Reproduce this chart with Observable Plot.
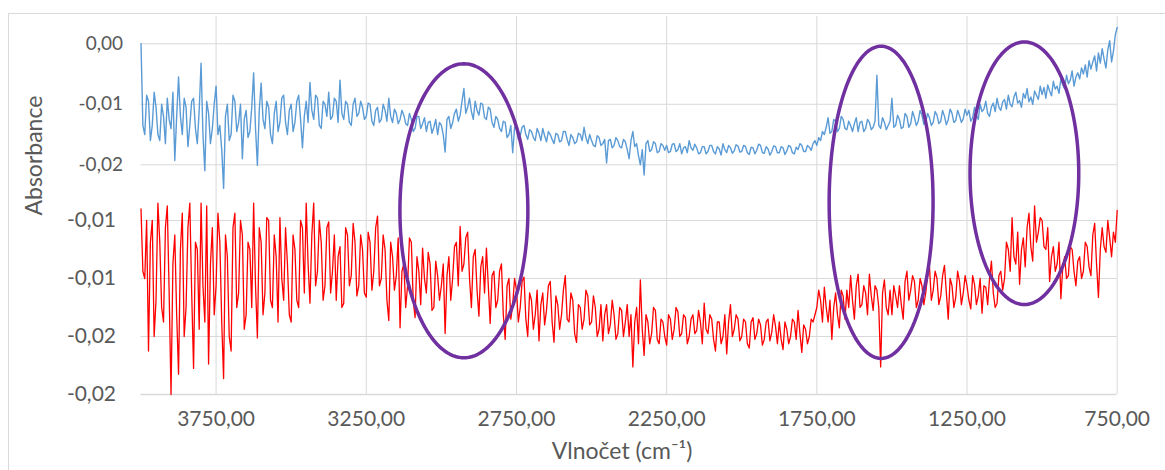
<!DOCTYPE html>
<html><head><meta charset="utf-8">
<script src="https://cdn.jsdelivr.net/npm/d3@7"></script>
<script src="https://cdn.jsdelivr.net/npm/@observablehq/plot@0.6"></script>
<style>
body{margin:0;background:#fff;}
#wrap{position:relative;width:1165px;height:470px;overflow:hidden;background:#fff;}
#frame{position:absolute;left:8px;top:13px;width:1200px;height:500px;border-left:1px solid #d9d9d9;border-top:1px solid #d9d9d9;pointer-events:none;}
#wrap svg{position:absolute;left:0;top:0;}
</style></head><body><div id="wrap"><div id="frame"></div></div>
<script>
// Spectral range (cm-1), sampled evenly from first to last value
const wavenumberFirst = 4000;
const wavenumberLast = 750;

// Upper spectrum (blue), absorbance
const blueAbsorbance = [
 0.0000,-0.0135,-0.0150,-0.0085,-0.0095,-0.0160,-0.0135,-0.0080,-0.0105,-0.0150,-0.0160,-0.0100,-0.0120,-0.0165,-0.0090,-0.0125,-0.0140,-0.0080,-0.0193,-0.0120,
 -0.0055,-0.0120,-0.0150,-0.0090,-0.0105,-0.0170,-0.0135,-0.0095,-0.0090,-0.0140,-0.0165,-0.0110,-0.0032,-0.0150,-0.0210,-0.0095,-0.0115,-0.0165,-0.0140,-0.0100,
 -0.0070,-0.0150,-0.0135,-0.0175,-0.0239,-0.0120,-0.0100,-0.0160,-0.0150,-0.0085,-0.0095,-0.0145,-0.0130,-0.0100,-0.0190,-0.0125,-0.0110,-0.0155,-0.0145,-0.0105,
 -0.0048,-0.0140,-0.0201,-0.0110,-0.0065,-0.0125,-0.0140,-0.0095,-0.0105,-0.0150,-0.0165,-0.0115,-0.0095,-0.0145,-0.0130,-0.0090,-0.0085,-0.0130,-0.0150,-0.0110,
 -0.0100,-0.0145,-0.0130,-0.0095,-0.0085,-0.0125,-0.0172,-0.0120,-0.0095,-0.0130,-0.0064,-0.0110,-0.0125,-0.0085,-0.0090,-0.0135,-0.0140,-0.0095,-0.0100,-0.0120,
 -0.0080,-0.0125,-0.0120,-0.0090,-0.0095,-0.0130,-0.0060,-0.0115,-0.0125,-0.0095,-0.0100,-0.0130,-0.0135,-0.0100,-0.0090,-0.0120,-0.0115,-0.0095,-0.0105,-0.0125,
 -0.0120,-0.0098,-0.0100,-0.0128,-0.0135,-0.0110,-0.0105,-0.0130,-0.0125,-0.0100,-0.0110,-0.0128,-0.0090,-0.0120,-0.0130,-0.0108,-0.0115,-0.0132,-0.0125,-0.0110,
 -0.0118,-0.0132,-0.0135,-0.0115,-0.0125,-0.0145,-0.0140,-0.0120,-0.0120,-0.0140,-0.0132,-0.0122,-0.0145,-0.0130,-0.0128,-0.0148,-0.0138,-0.0125,-0.0150,-0.0130,
 -0.0135,-0.0150,-0.0179,-0.0125,-0.0120,-0.0140,-0.0130,-0.0115,-0.0108,-0.0128,-0.0118,-0.0095,-0.0074,-0.0115,-0.0105,-0.0090,-0.0112,-0.0125,-0.0095,-0.0110,
 -0.0118,-0.0098,-0.0100,-0.0122,-0.0125,-0.0105,-0.0108,-0.0130,-0.0138,-0.0120,-0.0125,-0.0140,-0.0145,-0.0128,-0.0130,-0.0155,-0.0150,-0.0135,-0.0180,-0.0138,
 -0.0140,-0.0158,-0.0152,-0.0138,-0.0135,-0.0150,-0.0158,-0.0142,-0.0145,-0.0155,-0.0160,-0.0140,-0.0148,-0.0160,-0.0140,-0.0152,-0.0162,-0.0145,-0.0150,-0.0158,
 -0.0165,-0.0148,-0.0150,-0.0162,-0.0160,-0.0145,-0.0145,-0.0158,-0.0168,-0.0150,-0.0155,-0.0165,-0.0162,-0.0148,-0.0150,-0.0160,-0.0138,-0.0155,-0.0165,-0.0150,
 -0.0160,-0.0168,-0.0170,-0.0152,-0.0155,-0.0168,-0.0165,-0.0158,-0.0197,-0.0160,-0.0158,-0.0172,-0.0168,-0.0155,-0.0160,-0.0170,-0.0172,-0.0158,-0.0162,-0.0175,
 -0.0190,-0.0160,-0.0145,-0.0170,-0.0165,-0.0185,-0.0200,-0.0175,-0.0217,-0.0165,-0.0160,-0.0178,-0.0175,-0.0162,-0.0165,-0.0180,-0.0178,-0.0165,-0.0168,-0.0176,
 -0.0168,-0.0180,-0.0178,-0.0166,-0.0165,-0.0178,-0.0175,-0.0165,-0.0182,-0.0172,-0.0170,-0.0180,-0.0160,-0.0172,-0.0176,-0.0166,-0.0172,-0.0182,-0.0180,-0.0170,
 -0.0170,-0.0182,-0.0178,-0.0168,-0.0168,-0.0178,-0.0182,-0.0170,-0.0174,-0.0184,-0.0165,-0.0175,-0.0180,-0.0168,-0.0172,-0.0181,-0.0177,-0.0167,-0.0169,-0.0179,
 -0.0178,-0.0168,-0.0170,-0.0180,-0.0183,-0.0171,-0.0172,-0.0182,-0.0176,-0.0166,-0.0168,-0.0180,-0.0181,-0.0170,-0.0174,-0.0184,-0.0178,-0.0169,-0.0170,-0.0180,
 -0.0180,-0.0170,-0.0172,-0.0183,-0.0177,-0.0168,-0.0170,-0.0180,-0.0182,-0.0171,-0.0175,-0.0165,-0.0168,-0.0178,-0.0178,-0.0168,-0.0171,-0.0176,-0.0165,-0.0160,
 -0.0168,-0.0155,-0.0160,-0.0145,-0.0150,-0.0138,-0.0122,-0.0148,-0.0145,-0.0125,-0.0128,-0.0145,-0.0140,-0.0120,-0.0125,-0.0140,-0.0142,-0.0128,-0.0135,-0.0145,
 -0.0132,-0.0122,-0.0145,-0.0130,-0.0128,-0.0145,-0.0140,-0.0125,-0.0130,-0.0142,-0.0138,-0.0128,-0.0052,-0.0135,-0.0140,-0.0122,-0.0130,-0.0142,-0.0135,-0.0128,
 -0.0090,-0.0138,-0.0135,-0.0118,-0.0125,-0.0140,-0.0138,-0.0115,-0.0120,-0.0138,-0.0132,-0.0112,-0.0122,-0.0135,-0.0128,-0.0110,-0.0118,-0.0133,-0.0130,-0.0115,
 -0.0122,-0.0135,-0.0130,-0.0112,-0.0118,-0.0132,-0.0128,-0.0110,-0.0120,-0.0134,-0.0125,-0.0108,-0.0115,-0.0130,-0.0127,-0.0110,-0.0119,-0.0130,-0.0124,-0.0108,
 -0.0118,-0.0110,-0.0128,-0.0122,-0.0105,-0.0118,-0.0125,-0.0100,-0.0112,-0.0108,-0.0095,-0.0115,-0.0120,-0.0104,-0.0098,-0.0112,-0.0090,-0.0105,-0.0110,-0.0096,
 -0.0092,-0.0108,-0.0085,-0.0100,-0.0104,-0.0088,-0.0080,-0.0098,-0.0094,-0.0105,-0.0082,-0.0090,-0.0074,-0.0096,-0.0088,-0.0100,-0.0078,-0.0085,-0.0092,-0.0070,
 -0.0084,-0.0072,-0.0090,-0.0068,-0.0078,-0.0086,-0.0062,-0.0075,-0.0070,-0.0082,-0.0058,-0.0068,-0.0074,-0.0052,-0.0066,-0.0060,-0.0045,-0.0070,-0.0055,-0.0048,
 -0.0058,-0.0040,-0.0050,-0.0035,-0.0055,-0.0028,-0.0042,-0.0030,-0.0020,-0.0045,-0.0015,-0.0032,-0.0008,-0.0025,-0.0040,-0.0010,0.0005,-0.0030,-0.0012,0.0015,
 0.0027
];

// Lower spectrum (red), absorbance
const redAbsorbance = [
 -0.0072,-0.0115,-0.0120,-0.0080,-0.0170,-0.0095,-0.0080,-0.0160,-0.0135,-0.0068,-0.0095,-0.0140,-0.0150,-0.0085,-0.0070,-0.0130,-0.0200,-0.0110,-0.0090,-0.0145,
 -0.0186,-0.0100,-0.0075,-0.0160,-0.0140,-0.0085,-0.0068,-0.0130,-0.0182,-0.0095,-0.0100,-0.0155,-0.0068,-0.0125,-0.0150,-0.0070,-0.0179,-0.0110,-0.0085,-0.0145,
 -0.0125,-0.0075,-0.0095,-0.0150,-0.0189,-0.0090,-0.0105,-0.0160,-0.0170,-0.0085,-0.0075,-0.0140,-0.0130,-0.0080,-0.0090,-0.0155,-0.0145,-0.0095,-0.0100,-0.0140,
 -0.0068,-0.0125,-0.0161,-0.0085,-0.0095,-0.0145,-0.0130,-0.0078,-0.0080,-0.0135,-0.0140,-0.0090,-0.0105,-0.0150,-0.0078,-0.0120,-0.0135,-0.0085,-0.0110,-0.0145,
 -0.0150,-0.0090,-0.0100,-0.0135,-0.0140,-0.0080,-0.0085,-0.0130,-0.0068,-0.0110,-0.0137,-0.0090,-0.0068,-0.0125,-0.0115,-0.0080,-0.0095,-0.0135,-0.0125,-0.0085,
 -0.0081,-0.0130,-0.0115,-0.0090,-0.0135,-0.0105,-0.0098,-0.0140,-0.0137,-0.0085,-0.0090,-0.0125,-0.0118,-0.0082,-0.0095,-0.0132,-0.0125,-0.0090,-0.0100,-0.0130,
 -0.0133,-0.0088,-0.0095,-0.0128,-0.0115,-0.0085,-0.0077,-0.0125,-0.0120,-0.0090,-0.0100,-0.0135,-0.0149,-0.0095,-0.0105,-0.0128,-0.0118,-0.0092,-0.0154,-0.0115,
 -0.0110,-0.0140,-0.0125,-0.0092,-0.0095,-0.0135,-0.0147,-0.0105,-0.0115,-0.0138,-0.0099,-0.0120,-0.0130,-0.0102,-0.0110,-0.0142,-0.0140,-0.0108,-0.0118,-0.0135,
 -0.0125,-0.0110,-0.0158,-0.0118,-0.0105,-0.0135,-0.0120,-0.0098,-0.0095,-0.0125,-0.0084,-0.0115,-0.0110,-0.0092,-0.0088,-0.0120,-0.0140,-0.0105,-0.0100,-0.0128,
 -0.0146,-0.0112,-0.0105,-0.0130,-0.0099,-0.0125,-0.0151,-0.0118,-0.0115,-0.0140,-0.0135,-0.0115,-0.0110,-0.0145,-0.0162,-0.0125,-0.0120,-0.0148,-0.0138,-0.0120,
 -0.0128,-0.0150,-0.0140,-0.0122,-0.0119,-0.0148,-0.0160,-0.0130,-0.0135,-0.0155,-0.0145,-0.0128,-0.0163,-0.0138,-0.0130,-0.0152,-0.0142,-0.0125,-0.0122,-0.0150,
 -0.0164,-0.0132,-0.0138,-0.0155,-0.0145,-0.0128,-0.0118,-0.0148,-0.0150,-0.0130,-0.0135,-0.0158,-0.0164,-0.0138,-0.0140,-0.0155,-0.0148,-0.0128,-0.0132,-0.0152,
 -0.0150,-0.0132,-0.0140,-0.0160,-0.0155,-0.0138,-0.0163,-0.0145,-0.0138,-0.0158,-0.0152,-0.0135,-0.0145,-0.0162,-0.0158,-0.0140,-0.0142,-0.0160,-0.0150,-0.0138,
 -0.0160,-0.0145,-0.0181,-0.0150,-0.0140,-0.0165,-0.0121,-0.0155,-0.0173,-0.0145,-0.0150,-0.0165,-0.0158,-0.0140,-0.0142,-0.0162,-0.0165,-0.0148,-0.0150,-0.0160,
 -0.0166,-0.0145,-0.0148,-0.0162,-0.0155,-0.0140,-0.0143,-0.0160,-0.0158,-0.0145,-0.0147,-0.0165,-0.0160,-0.0148,-0.0145,-0.0158,-0.0156,-0.0142,-0.0150,-0.0165,
 -0.0137,-0.0155,-0.0158,-0.0145,-0.0148,-0.0162,-0.0170,-0.0150,-0.0150,-0.0165,-0.0160,-0.0145,-0.0172,-0.0150,-0.0138,-0.0160,-0.0155,-0.0145,-0.0148,-0.0163,
 -0.0160,-0.0148,-0.0150,-0.0165,-0.0168,-0.0150,-0.0147,-0.0162,-0.0158,-0.0148,-0.0152,-0.0166,-0.0162,-0.0150,-0.0148,-0.0163,-0.0157,-0.0145,-0.0153,-0.0165,
 -0.0150,-0.0162,-0.0169,-0.0150,-0.0155,-0.0165,-0.0160,-0.0148,-0.0150,-0.0162,-0.0142,-0.0158,-0.0171,-0.0152,-0.0155,-0.0165,-0.0160,-0.0148,-0.0150,-0.0145,
 -0.0140,-0.0128,-0.0135,-0.0150,-0.0126,-0.0140,-0.0150,-0.0135,-0.0162,-0.0140,-0.0130,-0.0145,-0.0154,-0.0128,-0.0132,-0.0148,-0.0128,-0.0140,-0.0118,-0.0135,
 -0.0148,-0.0125,-0.0117,-0.0140,-0.0138,-0.0125,-0.0130,-0.0145,-0.0117,-0.0132,-0.0142,-0.0125,-0.0128,-0.0140,-0.0181,-0.0130,-0.0121,-0.0140,-0.0145,-0.0128,
 -0.0145,-0.0125,-0.0132,-0.0140,-0.0125,-0.0138,-0.0148,-0.0122,-0.0115,-0.0135,-0.0128,-0.0118,-0.0122,-0.0140,-0.0135,-0.0120,-0.0125,-0.0138,-0.0130,-0.0118,
 -0.0112,-0.0135,-0.0128,-0.0115,-0.0120,-0.0138,-0.0132,-0.0118,-0.0111,-0.0130,-0.0148,-0.0120,-0.0125,-0.0140,-0.0133,-0.0115,-0.0122,-0.0138,-0.0130,-0.0118,
 -0.0125,-0.0135,-0.0141,-0.0118,-0.0124,-0.0138,-0.0132,-0.0120,-0.0144,-0.0125,-0.0126,-0.0138,-0.0120,-0.0108,-0.0130,-0.0140,-0.0137,-0.0118,-0.0115,-0.0128,
 -0.0120,-0.0095,-0.0100,-0.0115,-0.0078,-0.0105,-0.0110,-0.0088,-0.0124,-0.0100,-0.0092,-0.0112,-0.0085,-0.0075,-0.0098,-0.0108,-0.0070,-0.0095,-0.0088,-0.0078,
 -0.0080,-0.0098,-0.0100,-0.0085,-0.0122,-0.0105,-0.0098,-0.0115,-0.0110,-0.0095,-0.0134,-0.0112,-0.0105,-0.0120,-0.0118,-0.0098,-0.0100,-0.0115,-0.0125,-0.0108,
 -0.0105,-0.0120,-0.0115,-0.0095,-0.0098,-0.0112,-0.0118,-0.0090,-0.0082,-0.0110,-0.0133,-0.0100,-0.0085,-0.0098,-0.0102,-0.0080,-0.0092,-0.0105,-0.0088,-0.0095,
 -0.0073
];

// Axis ticks and labels
const xTicks = [3750, 3250, 2750, 2250, 1750, 1250, 750];
const xTickLabels = ["3750,00", "3250,00", "2750,00", "2250,00", "1750,00", "1250,00", "750,00"];
const blueTicks = [0, -0.01, -0.02];
const blueTickLabels = ["0,00", "-0,01", "-0,02"];
const redTicks = [-0.008, -0.012, -0.016, -0.020];
const redTickLabels = ["-0,01", "-0,01", "-0,02", "-0,02"];
const xTitle = "Vlnočet (cm⁻¹)";
const yTitle = "Absorbance";

// Highlight ellipses (centre in cm-1 / upper-panel absorbance, half sizes)
const ellipseCenterX = [2925, 1536, 1059];
const ellipseHalfWidth = [213, 173, 181];
const ellipseCenterY = [-0.0276, -0.0262, -0.0214];
const ellipseHalfHeight = [0.0243, 0.0258, 0.0217];

// ---- layout: the red panel is drawn under the blue one on a shared vertical axis
const redOffset = -0.02921, redGain = 2.3967;
const redToShared = b => redOffset + (b - redTicks[0]) * redGain;
const yTop = 0.00451, yBottom = redToShared(redTicks[redTicks.length - 1]);

const grid_w = arr => arr.map((v, i) => wavenumberFirst - i * (wavenumberFirst - wavenumberLast) / (arr.length - 1));
const blueW = grid_w(blueAbsorbance), redW = grid_w(redAbsorbance);
const blueData = blueAbsorbance.map((a, i) => ({w: blueW[i], y: a}));
const redData = redAbsorbance.map((b, i) => ({w: redW[i], y: redToShared(b)}));
const ellipsePts = ellipseCenterX.flatMap((cx, k) => d3.range(0, 145).map(j => {
  const t = j / 144 * 2 * Math.PI;
  return {k, x: cx + ellipseHalfWidth[k] * Math.cos(t), y: ellipseCenterY[k] + ellipseHalfHeight[k] * Math.sin(t)};
}));

const grid = "#d9d9d9";
const chart = Plot.plot({
  width: 1165, height: 470,
  marginLeft: 140.5, marginRight: 48.3, marginTop: 16, marginBottom: 76,
  x: {domain: [4000, 750], axis: null},
  y: {domain: [yBottom, yTop], axis: null},
  style: {fontFamily: "Lato, 'Open Sans', sans-serif", color: "#595959", background: "transparent", overflow: "visible"},
  marks: [
    Plot.ruleX(xTicks, {x: d => d, stroke: grid, strokeWidth: 1}),
    Plot.ruleY(blueTicks, {y: d => d, stroke: grid, strokeWidth: 1}),
    Plot.ruleY(redTicks.slice(0, -1), {y: d => redToShared(d), stroke: grid, strokeWidth: 1}),
    Plot.ruleY(redTicks.slice(-1), {y: d => redToShared(d), stroke: grid, strokeWidth: 1.4}),
    Plot.line(blueData, {x: "w", y: "y", stroke: "#5B9BD5", strokeWidth: 1.4}),
    Plot.line(redData, {x: "w", y: "y", stroke: "#FF0000", strokeWidth: 1.3}),
    Plot.line(ellipsePts, {x: "x", y: "y", z: "k", stroke: "#7030A0", strokeWidth: 3.5}),
    Plot.text(blueTicks, {y: d => d, text: (d, i) => blueTickLabels[i], frameAnchor: "left", textAnchor: "end", dx: -18, fontSize: 19}),
    Plot.text(redTicks, {y: d => redToShared(d), text: (d, i) => redTickLabels[i], frameAnchor: "left", textAnchor: "end", dx: -25, fontSize: 21}),
    Plot.text(xTicks, {x: d => d, text: (d, i) => xTickLabels[i], frameAnchor: "bottom", dy: 31.5, fontSize: 21}),
    Plot.text([xTitle], {text: d => d, frameAnchor: "bottom", dx: -7, dy: 64, fontSize: 23}),
    Plot.text([yTitle], {text: d => d, frameAnchor: "left", rotate: -90, dx: -106.5, dy: 10, fontSize: 23})
  ]
});
document.getElementById("wrap").appendChild(chart);
</script>
</body></html>
